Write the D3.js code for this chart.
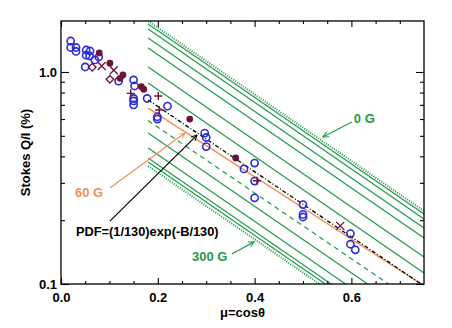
<!DOCTYPE html>
<html>
<head>
<meta charset="utf-8">
<script src="https://cdn.jsdelivr.net/npm/d3@7"></script>
<style>
body { margin: 0; background: #fff; }
text { font-family: "Liberation Sans", Arial, sans-serif; }
</style>
</head>
<body>
<div id="chart"></div>
<script>
// --- Data ---
const xTicks = [0.0, 0.2, 0.4, 0.6];
const xMinorTicks = [0.05, 0.1, 0.15, 0.25, 0.3, 0.35, 0.45, 0.5, 0.55, 0.65, 0.7];
const yTicks = [0.1, 1.0];
const yMinorTicks = [0.2, 0.3, 0.4, 0.5, 0.6, 0.7, 0.8, 0.9];

// model lines: Q/I (%) at mu = 0.18 and at mu = 0.75
const modelMu = [0.18, 0.75];
const zeroField = [1.74, 0.221];        // 0 G
const saturatedField = [0.360, 0.0458]; // 300 G
const pdfModel = [0.738, 0.098];        // PDF=(1/130)exp(-B/130)
const field60 = [0.676, 0.098];         // 60 G
const dashedModel = [0.590, 0.0770];
const solidStart = [1.684, 1.595, 1.447, 1.298, 1.056, 0.887, 0.516, 0.438, 0.393, 0.376];
const solidEnd   = [0.214, 0.2025, 0.1837, 0.1648, 0.134, 0.1127, 0.0656, 0.0556, 0.0499, 0.0478];

// observations
const circleMu = [0.02, 0.02, 0.031, 0.031, 0.052, 0.06, 0.052, 0.059, 0.07, 0.078, 0.05,
    0.119, 0.15, 0.152, 0.15, 0.15, 0.15, 0.178, 0.199, 0.199, 0.22,
    0.297, 0.30, 0.30, 0.378, 0.40, 0.40, 0.40, 0.50, 0.50, 0.50, 0.598, 0.598, 0.608];
const circleQI = [1.40, 1.305, 1.305, 1.25, 1.27, 1.256, 1.20, 1.19, 1.14, 1.177, 1.056,
    0.905, 0.917, 0.859, 0.75, 0.73, 0.70, 0.75, 0.60, 0.615, 0.69,
    0.515, 0.491, 0.445, 0.349, 0.372, 0.306, 0.255, 0.237, 0.213, 0.207, 0.173, 0.154, 0.145];
const dotMu = [0.079, 0.101, 0.128, 0.122, 0.166, 0.171, 0.266, 0.361];
const dotQI = [1.23, 1.10, 0.968, 0.934, 0.852, 0.829, 0.60, 0.393];
const crossMu = [0.084, 0.109, 0.577];
const crossQI = [1.067, 1.02, 0.188];
const diamondMu = [0.0645, 0.101];
const diamondQI = [1.052, 0.924];
const plusMu = [0.144, 0.201, 0.203, 0.405];
const plusQI = [0.793, 0.77, 0.662, 0.307];

// --- D3 Rendering ---
const width = 452, height = 328;
const margin = { top: 21, right: 28, bottom: 44, left: 61 };
const green = "#1f9a48", orange = "#f0915a", maroon = "#6e1238", blue = "#2a2ad8";

const svg = d3.select("#chart")
    .append("svg")
    .attr("width", width)
    .attr("height", height);

const x = d3.scaleLinear()
    .domain([0, 0.75])
    .range([margin.left, width - margin.right]);

const y = d3.scaleLog()
    .domain([0.1, 1.74])
    .range([height - margin.bottom, margin.top]);

svg.append("clipPath").attr("id", "plotArea")
    .append("rect")
    .attr("x", margin.left).attr("y", margin.top)
    .attr("width", x.range()[1] - margin.left)
    .attr("height", y.range()[0] - margin.top);

// arrow heads
const defs = svg.append("defs");
[["arrowGreen", green], ["arrowOrange", orange], ["arrowBlack", "#000"]].forEach(([id, c]) => {
    defs.append("marker")
        .attr("id", id)
        .attr("viewBox", "0 0 10 10")
        .attr("refX", 9).attr("refY", 5)
        .attr("markerWidth", 7).attr("markerHeight", 7)
        .attr("markerUnits", "userSpaceOnUse")
        .attr("orient", "auto")
        .append("path")
        .attr("d", "M1,1 L9,5 L1,9")
        .attr("fill", "none")
        .attr("stroke", c)
        .attr("stroke-width", 1.4);
});

const line = d3.line()
    .x(d => x(d[0]))
    .y(d => y(d[1]));

const models = svg.append("g").attr("clip-path", "url(#plotArea)");

function drawModel(values, color, dash, w) {
    models.append("path")
        .datum(modelMu.map((m, i) => [m, values[i]]))
        .attr("fill", "none")
        .attr("stroke", color)
        .attr("stroke-width", w)
        .attr("stroke-dasharray", dash)
        .attr("d", line);
}

solidStart.forEach((v, i) => drawModel([v, solidEnd[i]], green, null, 1.2));
drawModel(zeroField, green, "1,1.4", 2);
drawModel(saturatedField, green, "1,1.4", 2);
drawModel(dashedModel, green, "5,4", 1.2);
drawModel(field60, orange, null, 1.4);
drawModel(pdfModel, "#000", "4,2,1,2", 1.3);

// observations
const marks = svg.append("g");
marks.selectAll(".obs-circle")
    .data(circleMu.map((m, i) => [m, circleQI[i]]))
    .join("circle")
    .attr("cx", d => x(d[0]))
    .attr("cy", d => y(d[1]))
    .attr("r", 3.6)
    .attr("fill", "none")
    .attr("stroke", blue)
    .attr("stroke-width", 1.6);

marks.selectAll(".obs-dot")
    .data(dotMu.map((m, i) => [m, dotQI[i]]))
    .join("circle")
    .attr("cx", d => x(d[0]))
    .attr("cy", d => y(d[1]))
    .attr("r", 3.4)
    .attr("fill", maroon);

marks.selectAll(".obs-cross")
    .data(crossMu.map((m, i) => [m, crossQI[i]]))
    .join("path")
    .attr("transform", d => `translate(${x(d[0])},${y(d[1])})`)
    .attr("d", "M-4,-4L4,4M-4,4L4,-4")
    .attr("stroke", maroon)
    .attr("stroke-width", 1.4);

marks.selectAll(".obs-plus")
    .data(plusMu.map((m, i) => [m, plusQI[i]]))
    .join("path")
    .attr("transform", d => `translate(${x(d[0])},${y(d[1])})`)
    .attr("d", "M-4,0L4,0M0,-4L0,4")
    .attr("stroke", maroon)
    .attr("stroke-width", 1.4);

marks.selectAll(".obs-diamond")
    .data(diamondMu.map((m, i) => [m, diamondQI[i]]))
    .join("path")
    .attr("transform", d => `translate(${x(d[0])},${y(d[1])})`)
    .attr("d", "M0,-3.8L3.8,0L0,3.8L-3.8,0Z")
    .attr("fill", "none")
    .attr("stroke", maroon)
    .attr("stroke-width", 1.3);

// --- Axes (IDL style, ticks inside on every side) ---
const x0 = margin.left, x1 = x.range()[1], y0 = y.range()[0], y1 = margin.top;

function styleAxis(g) {
    g.select(".domain").remove();
    g.selectAll("line").attr("stroke", "#000").attr("stroke-width", 1.1);
    g.selectAll("text")
        .attr("font-size", 13)
        .attr("font-weight", "bold")
        .attr("fill", "#000")
        .attr("font-family", "Liberation Sans, Arial, sans-serif");
}

svg.append("g").attr("transform", `translate(0,${y0})`)
    .call(d3.axisBottom(x).tickValues(xTicks).tickSize(-6).tickPadding(9).tickFormat(d3.format(".1f")))
    .call(styleAxis);
svg.append("g").attr("transform", `translate(0,${y0})`)
    .call(d3.axisBottom(x).tickValues(xMinorTicks).tickSize(-3).tickFormat(""))
    .call(styleAxis);
svg.append("g").attr("transform", `translate(0,${y1})`)
    .call(d3.axisTop(x).tickValues(xTicks).tickSize(-6).tickFormat(""))
    .call(styleAxis);
svg.append("g").attr("transform", `translate(0,${y1})`)
    .call(d3.axisTop(x).tickValues(xMinorTicks).tickSize(-3).tickFormat(""))
    .call(styleAxis);

svg.append("g").attr("transform", `translate(${x0},0)`)
    .call(d3.axisLeft(y).tickValues(yTicks).tickSize(-8).tickPadding(4).tickFormat(d3.format(".1f")))
    .call(styleAxis);
svg.append("g").attr("transform", `translate(${x0},0)`)
    .call(d3.axisLeft(y).tickValues(yMinorTicks).tickSize(-4).tickFormat(""))
    .call(styleAxis);
svg.append("g").attr("transform", `translate(${x1},0)`)
    .call(d3.axisRight(y).tickValues(yTicks).tickSize(-8).tickFormat(""))
    .call(styleAxis);
svg.append("g").attr("transform", `translate(${x1},0)`)
    .call(d3.axisRight(y).tickValues(yMinorTicks).tickSize(-4).tickFormat(""))
    .call(styleAxis);

svg.append("rect")
    .attr("x", x0).attr("y", y1)
    .attr("width", x1 - x0).attr("height", y0 - y1)
    .attr("fill", "none")
    .attr("stroke", "#000")
    .attr("stroke-width", 1.3);

// axis titles
svg.append("text")
    .attr("x", (x0 + x1) / 2).attr("y", 317)
    .attr("text-anchor", "middle")
    .attr("font-size", 13).attr("font-weight", "bold")
    .text("μ=cosθ");

svg.append("text")
    .attr("transform", `translate(30,${(y0 + y1) / 2}) rotate(-90)`)
    .attr("text-anchor", "middle")
    .attr("font-size", 13).attr("font-weight", "bold")
    .text("Stokes Q/I (%)");

// --- Annotations ---
function label(mu, qi, txt, color, size, family) {
    svg.append("text")
        .attr("x", x(mu)).attr("y", y(qi))
        .attr("fill", color)
        .attr("font-size", size)
        .attr("font-family", family || null)
        .attr("font-weight", "bold")
        .text(txt);
}
function arrow(from, to, color, marker) {
    svg.append("path")
        .datum([from, to])
        .attr("d", line)
        .attr("stroke", color)
        .attr("stroke-width", 1.2)
        .attr("fill", "none")
        .attr("marker-end", `url(#${marker})`);
}

label(0.605, 0.575, "0 G", green, 13);
arrow([0.601, 0.581], [0.541, 0.494], green, "arrowGreen");

label(0.029, 0.257, "60 G", orange, 13);
arrow([0.101, 0.284], [0.256, 0.515], orange, "arrowOrange");

label(0.031, 0.168, "PDF=(1/130)exp(-B/130)", "#000", 12.8, "Liberation Serif, serif");
arrow([0.101, 0.198], [0.281, 0.504], "#000", "arrowBlack");

label(0.2707, 0.128, "300 G", green, 13);
arrow([0.353, 0.1385], [0.399, 0.158], green, "arrowGreen");
</script>
</body>
</html>
